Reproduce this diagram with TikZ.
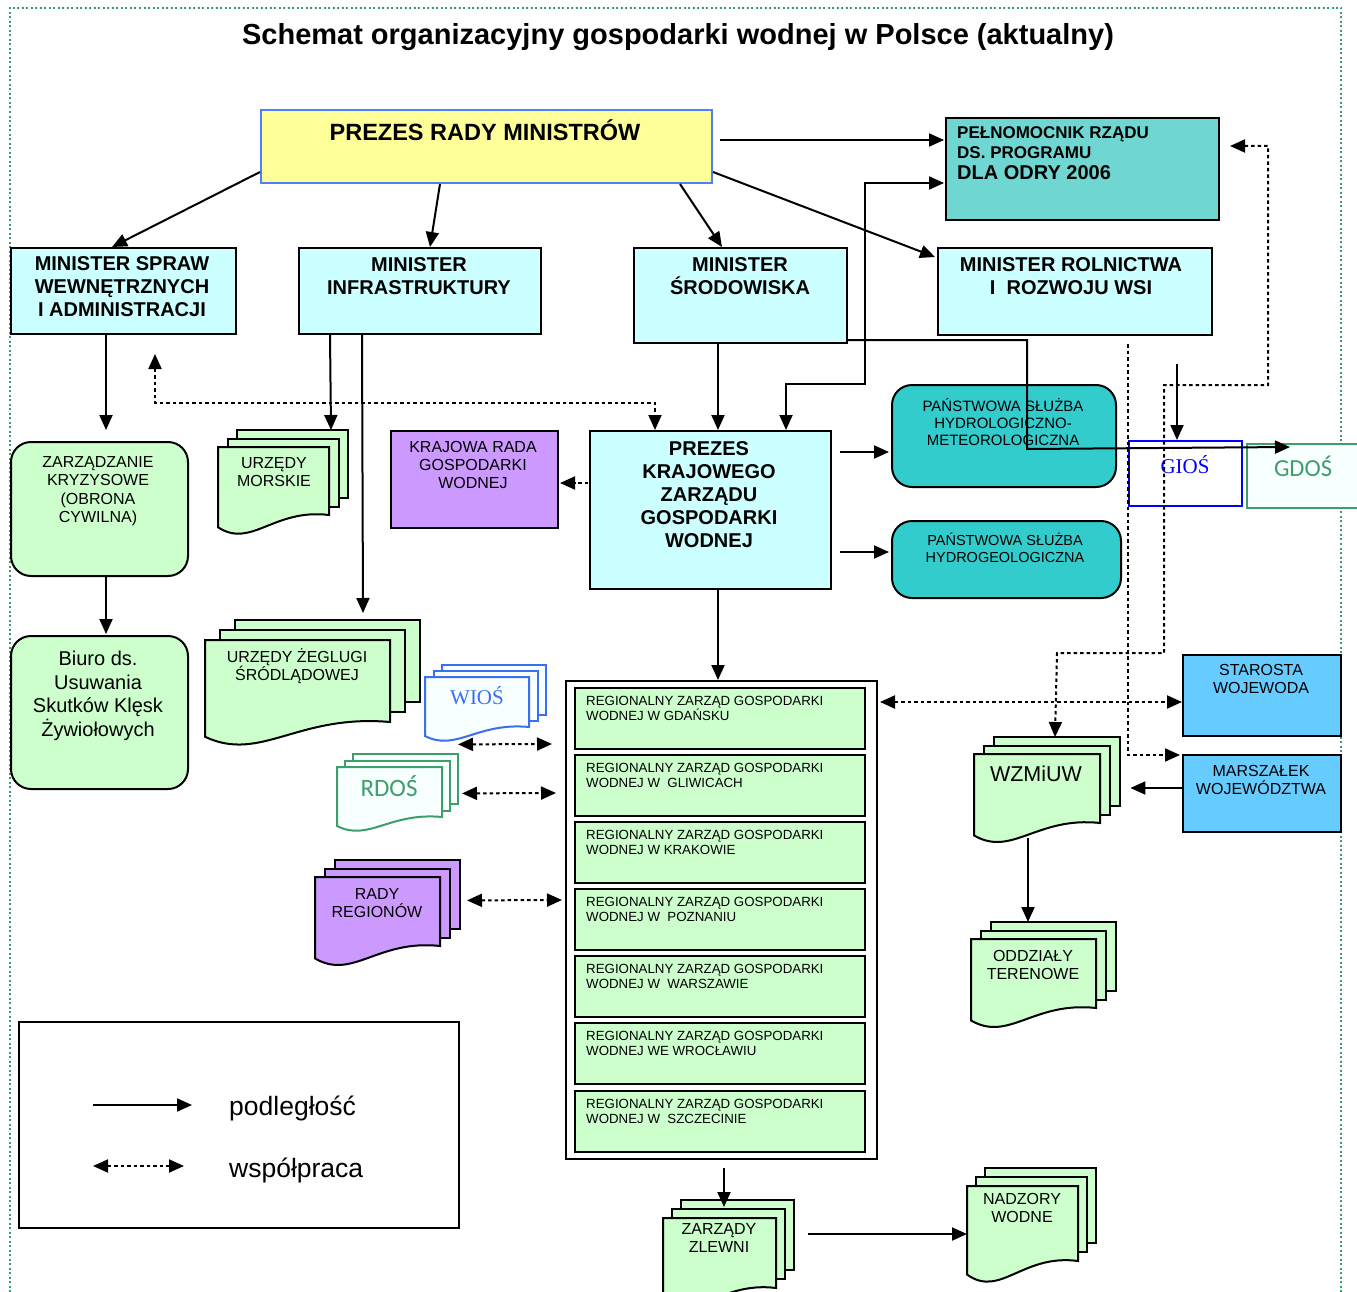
\documentclass[tikz,border=0pt]{standalone}
\usepackage{fontspec}
\setmainfont{Liberation Sans}
\newfontfamily\tnrfont{Liberation Serif}
\newfontfamily\calfont{Carlito}
\usetikzlibrary{calc,arrows.meta}
\newcommand{\fsz}[2]{\fontsize{#1}{#2}\selectfont}
\definecolor{yel}{HTML}{FFFF99}
\definecolor{prmb}{HTML}{4F81F5}
\definecolor{cyanL}{HTML}{CCFFFF}
\definecolor{tealP}{HTML}{70D6D1}
\definecolor{tealS}{HTML}{33CCCC}
\definecolor{purp}{HTML}{CC99FF}
\definecolor{grn}{HTML}{CCFFCC}
\definecolor{blu}{HTML}{66CCFF}
\definecolor{gdosc}{HTML}{3E9E6A}
\definecolor{wiosc}{HTML}{3A6EF5}
\definecolor{giosc}{HTML}{0000FF}
\definecolor{bordc}{HTML}{3A9A6A}
\definecolor{paleW}{HTML}{F8FFFF}
\newcommand{\mdoc}[8]{%
 \draw[mdocst,#8] ({#2+2*#6},{#3-2*#7}) rectangle ++(#4,#5);
 \draw[mdocst,#8] ({#2+#6},{#3-#7}) rectangle ++(#4,#5);
 \draw[mdocst,#8] (#2,#3) -- ({#2+#4},#3) -- ({#2+#4},{#3+#5}) .. controls ({#2+0.5*#4},{#3+0.9*#5}) and ({#2+0.3*#4},{#3+1.5*#5}) .. (#2,{#3+1.18*#5}) -- cycle;
 \node[inner sep=0pt, minimum width=#4, minimum height=#5, anchor=north west] (#1) at (#2,#3) {};
}
\begin{document}
\begin{tikzpicture}[x=1pt,y=-1pt,
 box/.style={draw=black, line width=2pt, inner sep=0pt, anchor=north west},
 rbox/.style={box, rounded corners=20pt},
 mdocst/.style={draw=black, line width=2pt, fill=grn},
 txt/.style={align=center, inner sep=0pt},
 arr/.style={line width=2pt, -{Triangle[length=15pt,width=13pt]}},
 arrb/.style={line width=2pt, {Triangle[length=15pt,width=13pt]}-{Triangle[length=15pt,width=13pt]}},
 dot/.style={line width=2pt, dash pattern=on 3.5pt off 3pt, -{Triangle[length=15pt,width=13pt]}},
 dotb/.style={line width=2pt, dash pattern=on 3.5pt off 3pt, {Triangle[length=15pt,width=13pt]}-{Triangle[length=15pt,width=13pt]}},
 rt/.style={align=left, inner sep=0pt, font=\fsz{13.3}{15}}
]
\useasboundingbox (0,0) rectangle (1357,1292);
\fill[white] (0,0) rectangle (1357,1292);
% page frame
\draw[bordc, line width=1.5pt, dash pattern=on 2pt off 2.5pt] (10,1292) -- (10,8) -- (1341,8) -- (1341,1292);

\node[font=\bfseries\fsz{29}{33}] (title) at (678,37) {Schemat organizacyjny gospodarki wodnej w Polsce (aktualny)};

% boxes
\node[box, draw=prmb, fill=yel, minimum width=451, minimum height=73] (prm) at (260,109) {};
\node[txt, font=\bfseries\fsz{23.5}{27}] (prm-t) at (485,130) {PREZES RADY MINISTRÓW};

\node[box, fill=tealP, minimum width=273, minimum height=102] (pel) at (945,117) {};
\node[txt, align=left, anchor=north west, font=\bfseries\fsz{17}{20}] (pel-t) at (957,126) {PEŁNOMOCNIK RZĄDU\\DS. PROGRAMU\\[1pt]{\fsz{20}{22}DLA ODRY 2006}};

\node[box, fill=cyanL, minimum width=225, minimum height=86] (msw) at (10,247) {};
\node[txt, font=\bfseries\fsz{20}{23}] (msw-t) at (122,287) {MINISTER SPRAW\\WEWNĘTRZNYCH\\I ADMINISTRACJI};

\node[box, fill=cyanL, minimum width=242, minimum height=86] (mi) at (298,247) {};
\node[txt, font=\bfseries\fsz{20}{23}] (mi-t) at (419,276) {MINISTER\\INFRASTRUKTURY};

\node[box, fill=cyanL, minimum width=213, minimum height=95] (ms) at (633,247) {};
\node[txt, font=\bfseries\fsz{20}{23}] (ms-t) at (740,276) {MINISTER\\ŚRODOWISKA};

\node[box, fill=cyanL, minimum width=274, minimum height=87] (mr) at (937,247) {};
\node[txt, font=\bfseries\fsz{20}{23}] (mr-t) at (1071,276) {MINISTER ROLNICTWA\\I~ ROZWOJU WSI};

\node[rbox, fill=grn, minimum width=177, minimum height=134] (zk) at (10,441) {};
\node[txt, font=\fsz{16}{18.5}] (zk-t) at (98,491) {ZARZĄDZANIE\\KRYZYSOWE\\(OBRONA\\CYWILNA)};

\node[rbox, fill=grn, minimum width=177, minimum height=153] (biuro) at (10,635) {};
\node[txt, font=\fsz{20}{23.5}] (biuro-t) at (98,696) {Biuro ds.\\Usuwania\\Skutków Klęsk\\Żywiołowych};

\node[box, fill=purp, minimum width=167, minimum height=97] (krgw) at (390,430) {};
\node[txt, font=\fsz{16}{18}] (krgw-t) at (473,465) {KRAJOWA RADA\\GOSPODARKI\\WODNEJ};

\node[box, fill=cyanL, minimum width=241, minimum height=158] (kzgw) at (589,430) {};
\node[txt, font=\bfseries\fsz{20}{23}] (kzgw-t) at (709,495) {PREZES\\KRAJOWEGO\\ZARZĄDU\\GOSPODARKI\\WODNEJ};

\node[rbox, fill=tealS, minimum width=224, minimum height=102] (pshm) at (891,384) {};
\node[txt, font=\fsz{15}{17}] (pshm-t) at (1003,422) {PAŃSTWOWA SŁUŻBA\\HYDROLOGICZNO-\\METEOROLOGICZNA};

\node[rbox, fill=tealS, minimum width=229, minimum height=77] (psh) at (891,520) {};
\node[txt, font=\fsz{14.5}{17}] (psh-t) at (1005,548) {PAŃSTWOWA SŁUŻBA\\HYDROGEOLOGICZNA};

\node[box, draw=giosc, fill=white, line width=2pt, minimum width=113, minimum height=65] (gios) at (1128,440) {};
\node[txt, text=giosc, font=\tnrfont\fsz{21}{24}] (gios-t) at (1185,465) {GIOŚ};

\node[box, draw=gdosc, fill=paleW, line width=2pt, minimum width=125, minimum height=64] (gdos) at (1246,443) {};
\node[txt, text=gdosc, font=\calfont\fsz{24.5}{27}] (gdos-t) at (1303,466) {GDOŚ};

\node[box, fill=blu, minimum width=158, minimum height=81] (star) at (1182,654) {};
\node[txt, font=\fsz{16}{18}] (star-t) at (1261,679) {STAROSTA\\WOJEWODA};

\node[box, fill=blu, minimum width=158, minimum height=77] (mars) at (1182,754) {};
\node[txt, font=\fsz{16}{18}] (mars-t) at (1261,780) {MARSZAŁEK\\WOJEWÓDZTWA};

% RZGW container
\node[box, fill=white, minimum width=311, minimum height=478] (cont) at (565,680) {};
\foreach \yy/\cc [count=\k] in {687/{W GDAŃSKU}, 754/{W~ GLIWICACH}, 821/{W KRAKOWIE}, 888/{W~ POZNANIU}, 955/{W~ WARSZAWIE}, 1022/{WE WROCŁAWIU}, 1090/{W~ SZCZECINIE}}{
 \node[box, fill=grn, minimum width=290, minimum height=61] (r\k) at (574,\yy) {};
 \node[rt, anchor=north west] (rt\k) at (586,{\yy+9}) {REGIONALNY ZARZĄD GOSPODARKI\\WODNEJ \cc};
}

% multi documents
\mdoc{morskie}{218}{447}{111}{68}{9.5}{8.5}{}
\node[txt, font=\fsz{16}{18}] (morskie-t) at (274,472) {URZĘDY\\MORSKIE};
\mdoc{zegluga}{205}{640}{185}{82}{15}{10}{}
\node[txt, font=\fsz{16}{18}] (zegluga-t) at (297,666) {URZĘDY ŻEGLUGI\\ŚRÓDLĄDOWEJ};
\mdoc{wios}{425}{677}{104}{50}{8.5}{6}{draw=wiosc, fill=paleW}
\node[txt, text=wiosc, font=\tnrfont\fsz{21}{24}] (wios-t) at (477,696) {WIOŚ};
\mdoc{rdos}{337}{767}{105}{50}{8}{6.5}{draw=gdosc, fill=paleW}
\node[txt, text=gdosc, font=\calfont\fsz{25}{28}] (rdos-t) at (389,786) {RDOŚ};
\mdoc{rady}{315}{877}{125}{69}{10}{8.5}{fill=purp}
\node[txt, font=\fsz{16}{18}] (rady-t) at (377,903) {RADY\\REGIONÓW};
\mdoc{wzmiuw}{974}{754}{126}{69}{10}{8.5}{}
\node[txt, font=\fsz{21.5}{24}] (wzmiuw-t) at (1036,774) {WZMiUW};
\mdoc{oddz}{971}{939}{125}{69}{10}{8.5}{}
\node[txt, font=\fsz{16}{18}] (oddz-t) at (1033,965) {ODDZIAŁY\\TERENOWE};
\mdoc{zlewni}{663}{1218}{113}{70}{9}{9}{}
\node[txt, font=\fsz{16}{18.5}] (zlewni-t) at (719,1238) {ZARZĄDY\\ZLEWNI};
\mdoc{nadzory}{967}{1186}{111}{75}{9}{9}{}
\node[txt, font=\fsz{16}{18.5}] (nadzory-t) at (1022,1208) {NADZORY\\WODNE};

% legend
\node[box, fill=white, minimum width=440, minimum height=206] (leg) at (18,1021) {};
\coordinate (la1) at (93,1105);
\coordinate (la2) at (192,1105);
\coordinate (lb1) at (93,1166);
\coordinate (lb2) at (184,1166);
\draw[arr] (la1) -- (la2);
\draw[dotb] (lb1) -- (lb2);
\node[anchor=west, inner sep=0pt, font=\fsz{26.5}{30}] (leg-a) at (229,1108) {podległość};
\node[anchor=west, inner sep=0pt, font=\fsz{26.5}{30}] (leg-b) at (229,1170) {współpraca};

% connectors
\draw[arr] ($(prm.south west)+(0,-12)$) -- ($(msw.north west)+(102,0)$);
\draw[arr] ($(prm.south west)+(180,0)$) -- ($(mi.north west)+(132,0)$);
\draw[arr] ($(prm.south west)+(420,0)$) -- ($(ms.north west)+(89,0)$);
\draw[arr] ($(prm.south east)+(0,-12)$) -- ($(mr.north west)+(-2,10)$);
\draw[arr] ($(prm.north east)+(7,31)$) -- ($(pel.north west)+(-1,23)$);
\draw[arrb] ($(pel.north west)+(-1,66)$) -- ++(-79,0) -- ++(0,201) -- ++(-79,0) -- ($(kzgw.north west)+(197,0)$);
\draw[arr] ($(ms.south west)+(85,0)$) -- ($(kzgw.north west)+(129,0)$);
\draw[arr] ($(ms.south east)+(0,-4)$) -- ++(179,0) -- ++(0,109) -- ($(gdos.north west)+(44,4)$);
\draw[arr] ($(mr.south west)+(240,28)$) -- ($(gios.north west)+(49,0)$);
\draw[arr] ($(msw.south west)+(96,0)$) -- ($(zk.north west)+(96,-11)$);
\draw[arr] ($(zk.south west)+(96,0)$) -- ($(biuro.north west)+(96,-1)$);
\draw[arr] ($(mi.south west)+(32,0)$) -- ($(morskie.north west)+(113,-17)$);
\draw[arr] ($(mi.south west)+(64,0)$) -- ($(zegluga.north west)+(158,-27)$);
\draw[dot] ($(kzgw.north west)+(-1,53)$) -- ($(krgw.north east)+(1,53)$);
\draw[arr] ($(kzgw.north east)+(8,22)$) -- ($(pshm.north west)+(-2,68)$);
\draw[arr] ($(kzgw.north east)+(8,122)$) -- ($(psh.north west)+(-2,32)$);
\draw[arr] ($(kzgw.south west)+(129,0)$) -- ($(cont.north west)+(153,0)$);
\draw[dotb] ($(cont.north east)+(2,22)$) -- ($(star.north west)+(0,48)$);
\draw[dotb] ($(wios.south west)+(33,17)$) -- ($(cont.north west)+(-13,64)$);
\draw[dotb] ($(rdos.south west)+(125,-24)$) -- ($(cont.north west)+(-9,113)$);
\draw[dotb] ($(rady.south west)+(152,-46)$) -- ($(cont.north west)+(-3,220)$);
\draw[arr] ($(cont.south west)+(159,8)$) -- ($(zlewni.north west)+(61,-11)$);
\draw[arr] ($(zlewni.north east)+(32,16)$) -- ($(nadzory.north west)+(0,48)$);
\draw[arr] ($(wzmiuw.south west)+(54,15)$) -- ($(oddz.north west)+(57,-17)$);
\draw[arr] ($(mars.north west)+(0,34)$) -- ($(wzmiuw.north east)+(30,34)$);
\draw[dotb] ($(msw.south west)+(145,19)$) |- ($(kzgw.north west)+(66,-27)$) -- ($(kzgw.north west)+(66,0)$);
\draw[dotb] ($(pel.north east)+(10,29)$) -- ++(38,0) -- ++(0,239) -- ++(-104,0) -- ++(0,268) -- ++(-107,0) -- ($(wzmiuw.north west)+(81,-17)$);
\draw[dot] ($(mr.south west)+(191,8)$) |- ($(mars.north west)+(-2,1)$);
\end{tikzpicture}
\end{document}
